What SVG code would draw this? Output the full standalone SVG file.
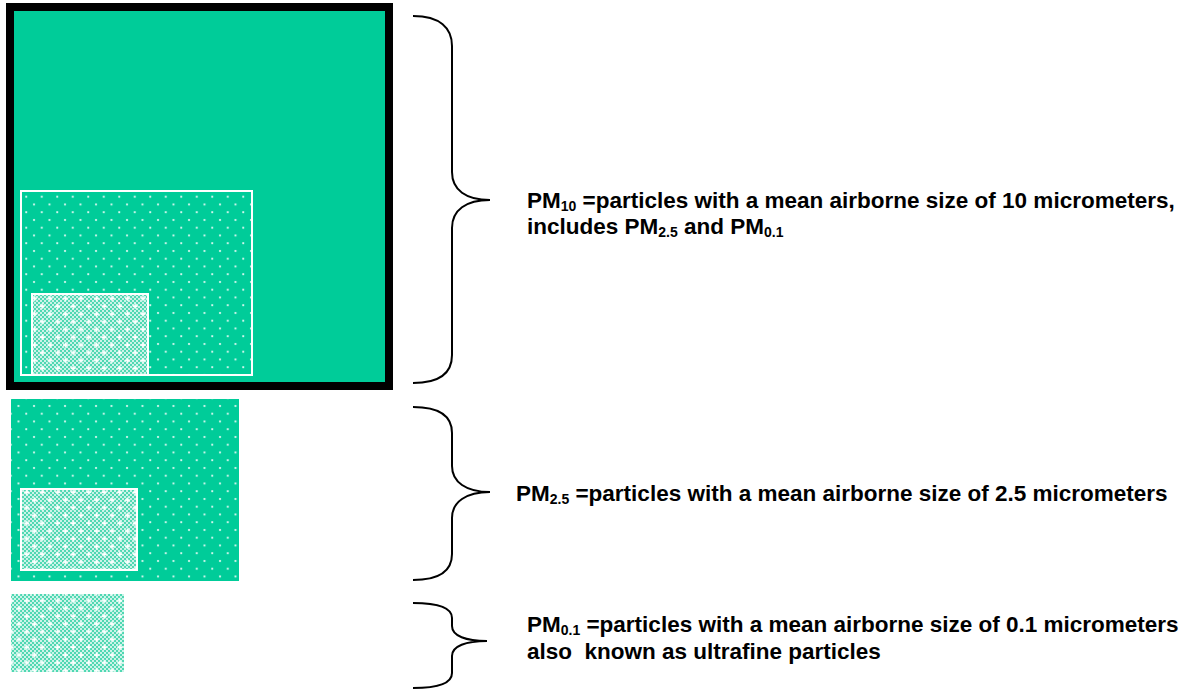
<svg xmlns="http://www.w3.org/2000/svg" width="1195" height="690" viewBox="0 0 1195 690">
<style>
.brace{fill:none;stroke:#000;stroke-width:2}
.lbl{font-family:"Liberation Sans",Arial,sans-serif;font-weight:bold;font-size:22.5px;fill:#000}
.sub{font-size:14px}
.wb{fill:none;stroke:#fff;stroke-width:2}
</style>
<defs>
<pattern id="dots" patternUnits="userSpaceOnUse" width="15.5" height="15.5">
<rect width="15.5" height="15.5" fill="#00CC99"/>
<circle cx="3" cy="3" r="1.1" fill="#fff" opacity="0.9"/>
<circle cx="10.75" cy="10.75" r="1.1" fill="#fff" opacity="0.9"/>
</pattern>
<pattern id="chk" patternUnits="userSpaceOnUse" width="4" height="4">
<rect width="4" height="4" fill="#4FD8B2"/>
<rect width="2" height="2" fill="#fff" opacity="0.7"/>
<rect x="2" y="2" width="2" height="2" fill="#fff" opacity="0.7"/>
</pattern>
<pattern id="cross" patternUnits="userSpaceOnUse" width="15.5" height="15.5">
<path d="M1,4 h5 M3.5,1.5 v5 M8.75,11.75 h5 M11.25,9.25 v5" stroke="#fff" stroke-width="1.6" fill="none"/>
</pattern>
</defs>

<g id="pm10">
<rect x="10" y="7" width="379" height="379" fill="#00CC99" stroke="#000" stroke-width="8"/>
<rect x="21" y="191" width="231" height="184" fill="url(#dots)"/>
<rect x="21" y="191" width="231" height="184" class="wb"/>
<rect x="32" y="294" width="116" height="81" fill="url(#chk)"/>
<rect x="32" y="294" width="116" height="81" fill="url(#cross)"/>
<rect x="32" y="294" width="116" height="81" class="wb"/>
</g>

<g id="pm25">
<rect x="11" y="399" width="228" height="182" fill="url(#dots)"/>
<rect x="21" y="489" width="116" height="81" fill="url(#chk)"/>
<rect x="21" y="489" width="116" height="81" fill="url(#cross)"/>
<rect x="21" y="489" width="116" height="81" class="wb"/>
</g>

<g id="pm01">
<rect x="11" y="594" width="113" height="78" fill="url(#chk)"/>
<rect x="11" y="594" width="113" height="78" fill="url(#cross)"/>
</g>

<g id="connectors">
<path class="brace" d="M413,16 C440,16 452,28 452,46 L452,172 C452,190 466,200 490,200 C466,200 452,210 452,228 L452,355 C452,373 440,383 413,383"/>
<path class="brace" d="M413,407 C440,407 452,417 452,433 L452,466 C452,482 466,492 490,492 C466,492 452,502 452,518 L452,554 C452,570 440,580 413,580"/>
<path class="brace" d="M413,603 C440,603 452,608 452,618 L452,626 C452,636 466,641 487,641 C466,641 452,646 452,656 L452,673 C452,683 440,688 413,688"/>
</g>

<g id="label-pm10">
<text class="lbl" x="527" y="208">PM<tspan class="sub" dy="3">10</tspan><tspan dy="-3"> =particles with a mean airborne size of 10 micrometers,</tspan></text>
<text class="lbl" x="527" y="234">includes PM<tspan class="sub" dy="3">2.5</tspan><tspan dy="-3"> and PM</tspan><tspan class="sub" dy="3">0.1</tspan></text>
</g>
<g id="label-pm25">
<text class="lbl" x="516" y="501">PM<tspan class="sub" dy="3">2.5</tspan><tspan dy="-3"> =particles with a mean airborne size of 2.5 micrometers</tspan></text>
</g>
<g id="label-pm01">
<text class="lbl" x="527" y="632">PM<tspan class="sub" dy="3">0.1</tspan><tspan dy="-3"> =particles with a mean airborne size of 0.1 micrometers</tspan></text>
<text class="lbl" x="527" y="659" xml:space="preserve">also  known as ultrafine particles</text>
</g>
</svg>
